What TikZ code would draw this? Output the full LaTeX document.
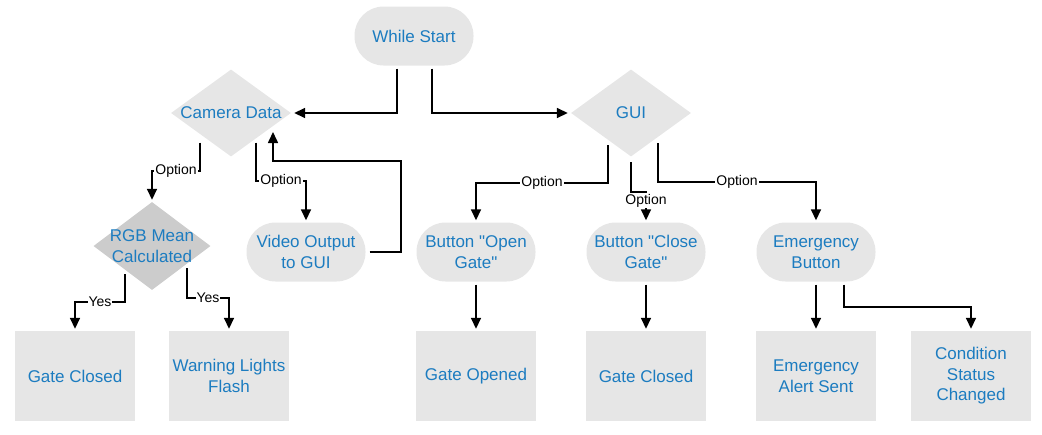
\documentclass[tikz,border=0pt]{standalone}
\usepackage{fontspec}
\setmainfont{Liberation Sans}
\newfontfamily\boxfont{Liberation Sans}
\usepackage{xcolor}
\usepackage{tikz}
\usetikzlibrary{arrows.meta, shapes.geometric}

\definecolor{boxgray}{HTML}{E6E6E6}
\definecolor{diagray}{HTML}{CCCCCC}
\definecolor{txtblue}{HTML}{1C7CC0}

\begin{document}
\begin{tikzpicture}[
      x=1pt, y=-1pt,
      every node/.style={font=\boxfont\fontsize{17}{20.5}\selectfont, text=txtblue, align=center},
      pill/.style={rectangle, rounded corners=29pt, fill=boxgray, minimum width=119pt, minimum height=59pt, inner sep=0pt},
      endbox/.style={rectangle, fill=boxgray, minimum width=120pt, minimum height=90pt, inner sep=0pt},
      dia/.style={diamond, fill=boxgray, minimum width=120pt, minimum height=87pt, inner sep=0pt},
      diatxt/.style={text=txtblue, align=center},
      lab/.style={font=\boxfont\fontsize{14}{16}\selectfont, text=black, fill=white, inner sep=1pt},
      arr/.style={line width=1.6pt, -{Triangle[length=11pt, width=10pt]}}
    ]
      \useasboundingbox (0,0) rectangle (1042,434);

      \node[pill] (start) at (414,36) {While Start};
      \node[dia, label={[diatxt]center:Camera Data}] (cam) at (231,113) {};
      \node[dia, label={[diatxt]center:GUI}] (gui) at (631,113) {};
      \node[dia, fill=diagray, minimum width=117pt, minimum height=88pt,
            label={[diatxt]center:RGB Mean\\Calculated}] (rgb) at (152,246) {};
      \node[pill] (vid) at (306,252) {Video Output\\to GUI};
      \node[pill] (open) at (476,252) {Button "Open\\Gate"};
      \node[pill] (close) at (646,252) {Button "Close\\Gate"};
      \node[pill] (emg) at (816,252) {Emergency\\Button};

      \node[endbox] (gc1) at (75,376) {Gate Closed};
      \node[endbox] (warn) at (229,376) {Warning Lights\\Flash};
      \node[endbox] (gopen) at (476,376) {Gate Opened};
      \node[endbox] (gc2) at (646,376) {Gate Closed};
      \node[endbox] (alert) at (816,376) {Emergency\\Alert Sent};
      \node[endbox] (cond) at (971,376) {Condition\\Status\\Changed};

      \draw[arr] ([xshift=-17pt,yshift=-3pt]start.south) |- ([xshift=3pt]cam.east);
      \draw[arr] ([xshift=18pt,yshift=-3pt]start.south) |- ([xshift=-3pt]gui.west);

      \draw[arr] ([xshift=-31pt,yshift=14pt]cam.south) -- ++(0,28)
        -| node[lab, pos=0.25] {Option} ([yshift=2pt]rgb.north);
      \draw[arr] ([xshift=25pt,yshift=14pt]cam.south) -- ++(0,38)
        -| node[lab, pos=0.25] {Option} ([yshift=2pt]vid.north);
      \draw[arr] ([xshift=4pt]vid.east) -- ++(31,0) -- ++(0,-91)
        -| ([xshift=42pt,yshift=-19pt]cam.center);

      \draw[arr] ([xshift=-27pt,yshift=-28pt]rgb.center) -- ++(0,28)
        -| node[lab, pos=0.25] {Yes} ([yshift=2pt]gc1.north);
      \draw[arr] ([xshift=35pt,yshift=-22pt]rgb.center) -- ++(0,30)
        -| node[lab, pos=0.25] {Yes} ([yshift=2pt]warn.north);

      \draw[arr] ([xshift=-23pt,yshift=-32pt]gui.center) -- ++(0,38)
        -| node[lab, pos=0.25] {Option} ([yshift=2pt]open.north);
      \draw[arr] ([yshift=-49pt]gui.center) -- ++(0,30)
        -| node[lab, pos=0.65] {Option} ([yshift=2pt]close.north);
      \draw[arr] ([xshift=27pt,yshift=-30pt]gui.center) -- ++(0,39)
        -| node[lab, pos=0.25] {Option} ([yshift=2pt]emg.north);

      \draw[arr] ([yshift=-3pt]open.south) -- ([yshift=2pt]gopen.north);
      \draw[arr] ([yshift=-3pt]close.south) -- ([yshift=2pt]gc2.north);
      \draw[arr] ([yshift=-3pt]emg.south) -- ([yshift=2pt]alert.north);
      \draw[arr] ([xshift=28pt,yshift=-3pt]emg.south) -- ++(0,22)
        -| ([yshift=2pt]cond.north);
    \end{tikzpicture}
\end{document}
